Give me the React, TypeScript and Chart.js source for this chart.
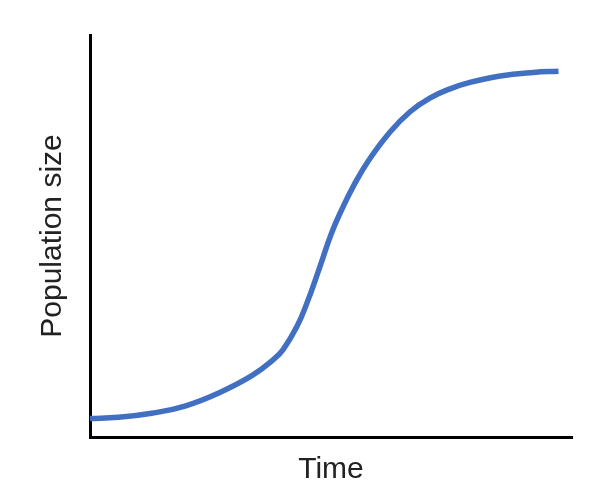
import React, { useEffect, useRef } from "react";
import { Chart, registerables } from "chart.js";

Chart.register(...registerables);

const TIME: number[] = [0, 5.8, 12.8, 19.7, 26.6, 33.5, 38.0, 40.1, 42.9, 45.0, 47.6, 50.1, 52.4, 54.6, 57.7, 62.2, 66.4, 70.5, 74.7, 78.8, 85.1, 92.0, 97.2];
const POPULATION: number[] = [4.6, 4.9, 5.9, 7.7, 10.9, 15.2, 19.2, 21.8, 27.4, 33.3, 42.0, 50.7, 57.0, 62.3, 68.6, 75.8, 80.9, 84.3, 86.6, 88.2, 89.8, 90.7, 91.0];
const X_TITLE = "Time";
const Y_TITLE = "Population size";

export default function App() {
  const ref = useRef<HTMLCanvasElement | null>(null);
  useEffect(() => {
    if (!ref.current) return;
    const chart = new Chart(ref.current, {
      type: "line",
      data: {
        datasets: [
          {
            data: TIME.map((t, i) => ({ x: t, y: POPULATION[i] })),
            borderColor: "#4170C3",
            borderWidth: 5.5,
            pointRadius: 0,
            tension: 0.45,
            fill: false,
          },
        ],
      },
      options: {
        animation: false,
        responsive: false,
        maintainAspectRatio: false,
        layout: { padding: { top: 35, right: 30, bottom: 10, left: 0 } },
        plugins: { legend: { display: false }, tooltip: { enabled: false } },
        scales: {
          x: {
            type: "linear",
            min: 0,
            max: 100,
            ticks: { display: false },
            grid: { display: false, drawTicks: false },
            border: { display: true, color: "#000", width: 3 },
            title: {
              display: true,
              text: X_TITLE,
              color: "#222",
              font: { family: "'Liberation Sans', Arial, sans-serif", size: 30, lineHeight: 1.2 },
              padding: { top: 15, bottom: 4 },
            },
          },
          y: {
            min: 0,
            max: 100,
            ticks: { display: false },
            grid: { display: false, drawTicks: false },
            border: { display: true, color: "#000", width: 3 },
            title: {
              display: true,
              text: Y_TITLE,
              color: "#222",
              font: { family: "'Liberation Sans', Arial, sans-serif", size: 30, lineHeight: 1.2 },
              padding: { top: 35, bottom: 19 },
            },
          },
        },
      },
    });
    return () => chart.destroy();
  }, []);
  return (
    <div style={{ position: "fixed", left: 0, top: 0, width: 602, height: 502, background: "#fff" }}>
      <canvas ref={ref} width={602} height={502} style={{ width: 602, height: 502 }} />
    </div>
  );
}
